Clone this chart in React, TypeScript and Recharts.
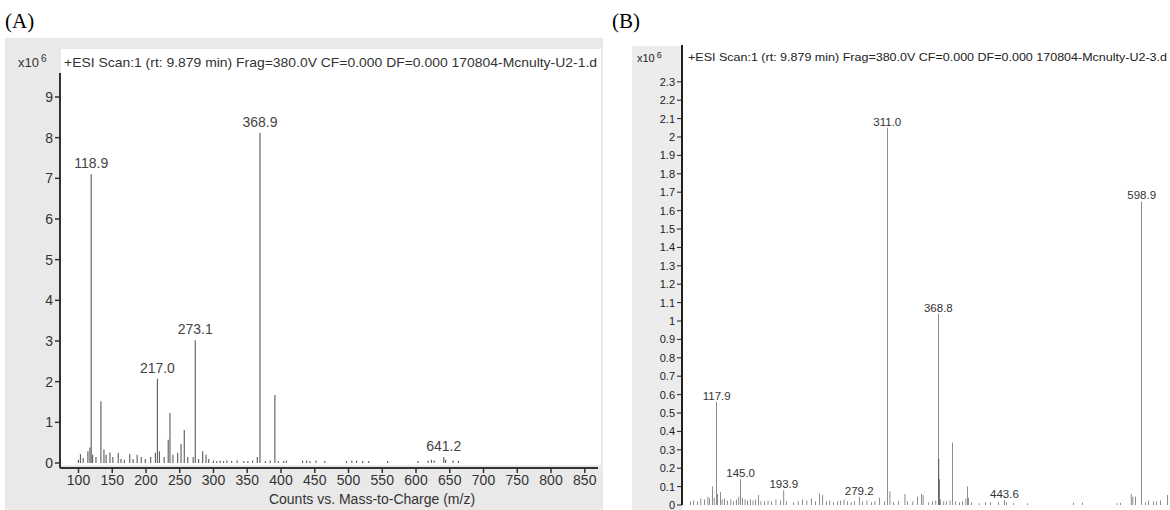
import React from 'react';
import { BarChart, Bar, XAxis, YAxis, LabelList } from 'recharts';

// ---------- Panel A data (m/z, counts x10^6) ----------
const massA = [
  100, 103, 107, 114, 117, 118.9, 121, 126, 133.3, 137.8, 141, 146.7, 151, 159, 163, 168,
  176, 181, 187, 193, 199, 207, 214, 217.0, 220, 227, 233, 235.6, 240, 247, 252, 256.8,
  262, 270, 273.1, 278, 284, 289, 293, 300, 305, 310, 315, 320, 327, 335, 345, 351, 358,
  365, 368.9, 377, 384, 391, 396, 404, 408, 432, 438, 443, 452, 465, 497, 505, 512, 521,
  530, 558, 603, 618, 623, 627, 641.2, 644, 655, 663,
];
const countsA = [
  0.08, 0.22, 0.12, 0.29, 0.38, 7.1, 0.2, 0.15, 1.52, 0.33, 0.2, 0.26, 0.15, 0.25, 0.1, 0.08,
  0.22, 0.1, 0.2, 0.15, 0.1, 0.15, 0.25, 2.07, 0.29, 0.15, 0.57, 1.23, 0.2, 0.25, 0.47, 0.81,
  0.15, 0.15, 3.02, 0.1, 0.29, 0.2, 0.1, 0.06, 0.05, 0.06, 0.05, 0.06, 0.05, 0.06, 0.05, 0.05, 0.06,
  0.15, 8.12, 0.05, 0.06, 1.67, 0.05, 0.05, 0.06, 0.06, 0.06, 0.05, 0.06, 0.05, 0.05, 0.06, 0.06, 0.05,
  0.05, 0.05, 0.05, 0.06, 0.08, 0.06, 0.15, 0.08, 0.06, 0.05,
];
const peakLabelsA = ['118.9', '217.0', '273.1', '368.9', '641.2'];
const xTicksA = [100, 150, 200, 250, 300, 350, 400, 450, 500, 550, 600, 650, 700, 750, 800, 850];
const yTicksA = [0, 1, 2, 3, 4, 5, 6, 7, 8, 9];

// ---------- Panel B data (m/z, counts x10^6) ----------
const massB = [
  88, 92, 96, 100, 104, 108, 110, 113.4, 115, 117.9, 119, 122, 124, 127, 130, 134, 137, 140, 143,
  145.0, 147, 150, 153, 156, 159, 162, 165, 168, 172, 176, 180, 185, 190, 193.9, 197, 205, 210,
  215, 220, 225, 230, 234, 238, 242, 246, 250, 255, 258, 262, 266, 270, 274, 279.2, 283, 288,
  293, 297, 302, 308, 311.0, 314, 318, 324, 331, 334, 340, 345, 350, 351.5, 358, 362, 366,
  368.8, 369.4, 370, 371, 375, 378, 382, 385, 388, 393, 396, 400, 401.8, 403, 406, 415, 422,
  428, 437, 443.6, 446, 454, 470, 522, 532, 571, 575, 587, 589, 592, 598.9, 603, 607, 612, 616,
  620, 628,
];
const countsB = [
  0.02, 0.025, 0.02, 0.035, 0.03, 0.045, 0.035, 0.1, 0.04, 0.56, 0.06, 0.07, 0.03, 0.035, 0.025, 0.03, 0.02, 0.03, 0.045,
  0.14, 0.04, 0.03, 0.025, 0.03, 0.025, 0.03, 0.055, 0.02, 0.02, 0.025, 0.02, 0.03, 0.025, 0.08, 0.02, 0.015, 0.02,
  0.03, 0.025, 0.035, 0.02, 0.063, 0.055, 0.02, 0.025, 0.015, 0.02, 0.025, 0.03, 0.02, 0.015, 0.02, 0.045, 0.02, 0.025,
  0.015, 0.02, 0.04, 0.02, 2.05, 0.075, 0.015, 0.02, 0.06, 0.02, 0.02, 0.045, 0.06, 0.055, 0.015, 0.02, 0.025,
  1.04, 0.25, 0.14, 0.03, 0.02, 0.02, 0.025, 0.34, 0.02, 0.015, 0.02, 0.035, 0.1, 0.04, 0.015, 0.01, 0.015,
  0.015, 0.015, 0.027, 0.015, 0.01, 0.01, 0.012, 0.012, 0.01, 0.012, 0.06, 0.045, 0.045, 1.65, 0.015, 0.025, 0.02, 0.02,
  0.025, 0.055,
];
const peakLabelsB = ['117.9', '145.0', '193.9', '279.2', '311.0', '368.8', '443.6', '598.9'];
const yTicksB = [
  0, 0.1, 0.2, 0.3, 0.4, 0.5, 0.6, 0.7, 0.8, 0.9, 1, 1.1, 1.2, 1.3, 1.4, 1.5, 1.6, 1.7, 1.8, 1.9,
  2, 2.1, 2.2, 2.3,
];

const titleA = '+ESI Scan:1 (rt: 9.879 min) Frag=380.0V CF=0.000 DF=0.000 170804-Mcnulty-U2-1.d';
const titleB = '+ESI Scan:1 (rt: 9.879 min) Frag=380.0V CF=0.000 DF=0.000 170804-Mcnulty-U2-3.d';
const xLabelA = 'Counts vs. Mass-to-Charge (m/z)';

const build = (mass: number[], counts: number[], labels: string[]) =>
  mass.map((m, i) => ({
    m,
    v: counts[i],
    label: labels.includes(m.toFixed(1)) ? m.toFixed(1) : '',
  }));

const dataA = build(massA, countsA, peakLabelsA);
const dataB = build(massB, countsB, peakLabelsB);

const FONT = '"Liberation Sans", Arial, sans-serif';

export default function App() {
  return (
    <div style={{ position: 'absolute', left: 0, top: 0, width: 1170, height: 510, background: '#fff', overflow: 'hidden', fontFamily: FONT }}>
      {/* panel A backgrounds */}
      <div style={{ position: 'absolute', left: 5, top: 38, width: 598, height: 472, background: '#e9e9e9' }} />
      <div style={{ position: 'absolute', left: 61, top: 49, width: 540, height: 416, background: '#fff' }} />
      {/* panel B background strip */}
      <div style={{ position: 'absolute', left: 632, top: 46, width: 50, height: 464, background: '#ececec' }} />

      <div style={{ position: 'absolute', left: 0, top: 0 }}>
        <BarChart width={600} height={510} data={dataA} margin={{ top: 73, right: 2, left: 0, bottom: 0 }}>
          <XAxis
            type="number"
            dataKey="m"
            domain={[72.6, 869.6]}
            allowDataOverflow
            ticks={xTicksA}
            height={42}
            axisLine={{ stroke: '#333', strokeWidth: 2 }}
            tickLine={{ stroke: '#333', strokeWidth: 1.5 }}
            tickSize={5}
            tick={{ fontSize: 14, fill: '#333', fontFamily: FONT }}
          />
          <YAxis
            type="number"
            domain={[-0.123, 9.59]}
            allowDataOverflow
            ticks={yTicksA}
            width={60}
            axisLine={{ stroke: '#333', strokeWidth: 2 }}
            tickLine={{ stroke: '#333', strokeWidth: 1.5 }}
            tickSize={5}
            tick={{ fontSize: 14, fill: '#333', fontFamily: FONT }}
          />
          <Bar dataKey="v" barSize={2.2} fill="#626262" isAnimationActive={false}>
            <LabelList dataKey="label" position="top" offset={6} style={{ fontSize: 14, fill: '#444', fontFamily: FONT }} />
          </Bar>
        </BarChart>
      </div>

      <div style={{ position: 'absolute', left: 600, top: 0 }}>
        <BarChart width={570} height={510} data={dataB} margin={{ top: 45, right: 2, left: 0, bottom: 5 }}>
          <XAxis
            type="number"
            dataKey="m"
            domain={[78.6, 628.7]}
            allowDataOverflow
            height={0}
            tick={false}
            tickLine={false}
            axisLine={{ stroke: '#222', strokeWidth: 2 }}
          />
          <YAxis
            type="number"
            domain={[0, 2.5]}
            allowDataOverflow
            ticks={yTicksB}
            width={82}
            axisLine={{ stroke: '#222', strokeWidth: 2 }}
            tickLine={{ stroke: '#222' }}
            tickSize={5}
            tick={{ fontSize: 11, fill: '#222', fontFamily: FONT }}
            interval={0}
          />
          <Bar dataKey="v" barSize={1.5} fill="#111" isAnimationActive={false}>
            <LabelList dataKey="label" position="top" offset={2} style={{ fontSize: 11.5, fill: '#333', fontFamily: FONT }} />
          </Bar>
        </BarChart>
      </div>

      {/* text overlay */}
      <svg width={1170} height={510} style={{ position: 'absolute', left: 0, top: 0, pointerEvents: 'none' }}>
        <text x={5} y={28} fontFamily='"Liberation Serif", "Times New Roman", serif' fontSize={21} fill="#000">(A)</text>
        <text x={612} y={28} fontFamily='"Liberation Serif", "Times New Roman", serif' fontSize={21} fill="#000">(B)</text>

        <text x={18} y={67} fontFamily={FONT} fontSize={13} fill="#333">
          x10<tspan dx={2} dy={-5} fontSize={10}>6</tspan>
        </text>
        <text x={64} y={67} fontFamily={FONT} fontSize={13} fill="#333" textLength={533} lengthAdjust="spacingAndGlyphs">{titleA}</text>
        <text x={372} y={504} fontFamily={FONT} fontSize={14} fill="#333" textAnchor="middle">{xLabelA}</text>

        <text x={637} y={62} fontFamily={FONT} fontSize={11} fill="#222">
          x10<tspan dx={2} dy={-4} fontSize={9}>6</tspan>
        </text>
        <text x={688} y={61} fontFamily={FONT} fontSize={11} fill="#222" textLength={479} lengthAdjust="spacingAndGlyphs">{titleB}</text>
      </svg>
    </div>
  );
}
